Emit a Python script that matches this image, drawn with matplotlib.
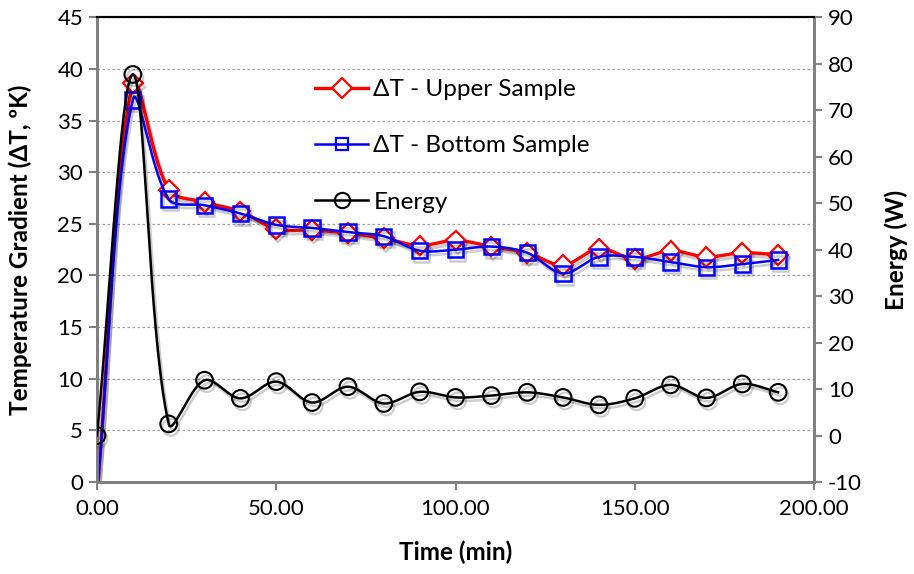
import numpy as np
import matplotlib
matplotlib.use("Agg")
import matplotlib.pyplot as plt
import matplotlib.patheffects as pe
from matplotlib.ticker import FormatStrFormatter

plt.rcParams['font.family'] = ['Lato', 'DejaVu Sans']
plt.rcParams['axes.unicode_minus'] = False

time_min = [0, 10, 20, 30, 40, 50, 60, 70, 80, 90, 100, 110, 120, 130, 140, 150, 160, 170, 180, 190]
dt_upper = [-1.2, 38.6, 28.3, 27.1, 26.2, 24.5, 24.4, 24.1, 23.6, 22.9, 23.4, 22.8, 22.2, 21.0, 22.6, 21.6, 22.4, 21.8, 22.2, 22.0]
dt_bottom = [-1.2, 37.0, 27.4, 26.8, 26.0, 24.9, 24.6, 24.2, 23.8, 22.4, 22.5, 22.8, 22.2, 20.2, 21.8, 21.8, 21.3, 20.8, 21.1, 21.5]
energy_w = [0.0, 77.7, 2.5, 11.9, 8.0, 11.6, 7.1, 10.5, 6.9, 9.4, 8.2, 8.6, 9.3, 8.2, 6.6, 8.0, 10.9, 8.1, 11.1, 9.3]

labels = ['ΔT - Upper Sample', 'ΔT - Bottom Sample', 'Energy']


def smooth(x, y, sx, sy, n=40):
    """Chord-length weighted cubic Bezier smoothing (Excel-like), computed in pixel space."""
    P = np.column_stack([np.asarray(x, float) * sx, np.asarray(y, float) * sy])
    N = len(P)
    out = []
    for i in range(N - 1):
        p0 = P[max(i - 1, 0)]
        p1 = P[i]
        p2 = P[i + 1]
        p3 = P[min(i + 2, N - 1)]
        d01 = np.linalg.norm(p1 - p0)
        d12 = np.linalg.norm(p2 - p1)
        d23 = np.linalg.norm(p3 - p2)
        t1 = (p2 - p0)
        t2 = (p3 - p1)
        f1 = d12 / (d01 + d12) if (d01 + d12) > 0 else 0
        f2 = d12 / (d12 + d23) if (d12 + d23) > 0 else 0
        b1 = p1 + t1 * f1 / 3.0
        b2 = p2 - t2 * f2 / 3.0
        t = np.linspace(0, 1, n)[:, None]
        pts = ((1 - t) ** 3) * p1 + 3 * ((1 - t) ** 2) * t * b1 + 3 * (1 - t) * t ** 2 * b2 + t ** 3 * p2
        if i > 0:
            pts = pts[1:]
        out.append(pts)
    pts = np.vstack(out)
    return pts[:, 0] / sx, pts[:, 1] / sy


fig = plt.figure(figsize=(9.14, 5.74), dpi=100)
ax = fig.add_axes([97 / 914, 1 - 482 / 574, (814 - 97) / 914, (482 - 17.3) / 574])
ax2 = ax.twinx()

shadow = [pe.SimpleLineShadow(offset=(1.5, -2.5), alpha=0.2, shadow_color='k'), pe.Normal()]

fs = 16
gray = '#808080'
lfs = 17.5

ax.set_xlim(0, 200)
ax.set_ylim(0, 45)
ax2.set_ylim(-10, 90)

pxx = 717 / 200.0
pyl = 464.7 / 45.0
pyr = 464.7 / 100.0

# Upper
sx, sy = smooth(time_min, dt_upper, pxx, pyl)
ax.plot(sx, sy, color='#FF0000', lw=2.4, zorder=3, path_effects=shadow)
ax.plot(time_min, dt_upper, ls='none', marker='D', ms=10, mfc='white', mec='#FF0000', mew=1.6, zorder=4,
        path_effects=shadow)
# Bottom
sx, sy = smooth(time_min, dt_bottom, pxx, pyl)
ax.plot(sx, sy, color='#0000FF', lw=1.8, zorder=5, path_effects=shadow)
ax.plot(time_min, dt_bottom, ls='none', marker='s', ms=11, mfc='none', mec='#0000FF', mew=1.8, zorder=6,
        path_effects=shadow)
# Energy
sx, sy = smooth(time_min, energy_w, pxx, pyr)
ax2.plot(sx, sy, color='black', lw=1.8, zorder=3, path_effects=shadow)
ax2.plot(time_min, energy_w, ls='none', marker='o', ms=12, mfc='none', mec='black', mew=1.5, zorder=4,
         path_effects=shadow)

ax.set_xticks(np.arange(0, 201, 50))
ax.xaxis.set_major_formatter(FormatStrFormatter('%.2f'))
ax.set_yticks(np.arange(0, 46, 5))
ax2.set_yticks(np.arange(-10, 91, 10))

ax.yaxis.grid(True, ls=(0, (2, 2)), color='#a0a0a0', lw=0.9)
ax.set_axisbelow(True)

for a in (ax, ax2):
    a.spines['left'].set_color(gray)
    a.spines['right'].set_color(gray)
    a.spines['bottom'].set_color(gray)
    a.spines['top'].set_color('black')
    for s in ('left', 'right', 'bottom'):
        a.spines[s].set_linewidth(2)
    a.spines['top'].set_linewidth(1.5)

ax.tick_params(axis='both', direction='out', color=gray, width=1.5, length=6, labelsize=fs, pad=4)
ax2.tick_params(axis='y', direction='out', color=gray, width=1.5, length=6, labelsize=fs, pad=4)
ax.tick_params(axis='x', pad=6)

ax.set_xlabel('Time (min)', fontsize=lfs, fontweight='bold', labelpad=16)
ax.set_ylabel('Temperature Gradient (ΔT, ºK)', fontsize=lfs, fontweight='bold', labelpad=18)
ax2.set_ylabel('Energy (W)', fontsize=lfs, fontweight='bold', labelpad=16)

# legend handles
h1 = plt.Line2D([], [], color='#FF0000', lw=2.4, marker='D', ms=10, mfc='white', mec='#FF0000', mew=1.6)
h2 = plt.Line2D([], [], color='#0000FF', lw=1.8, marker='s', ms=9, mfc='none', mec='#0000FF', mew=1.6)
h3 = plt.Line2D([], [], color='black', lw=1.8, marker='o', ms=11, mfc='none', mec='black', mew=1.5)
leg = ax2.legend([h1, h2, h3], labels, loc='upper left',
                 bbox_to_anchor=(315 / 914, 1 - 79 / 574), bbox_transform=fig.transFigure,
                 frameon=False, fontsize=17.5, handlelength=2.2, handletextpad=0.2,
                 labelspacing=1.45, borderpad=0, borderaxespad=0)

fig.savefig('out.png', dpi=100)
